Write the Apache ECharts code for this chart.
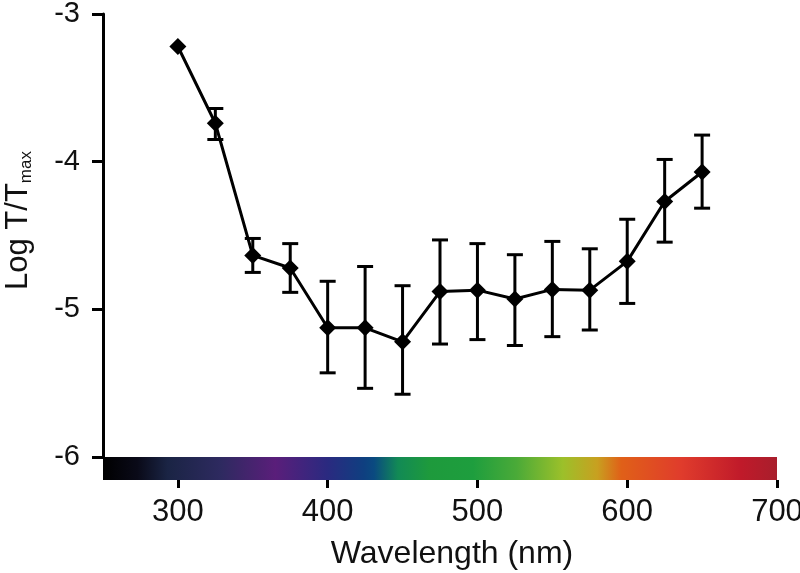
<!DOCTYPE html>
<html>
<head>
<meta charset="utf-8">
<script src="https://cdn.jsdelivr.net/npm/echarts@6/dist/echarts.min.js"></script>
<style>html,body{margin:0;padding:0;background:#fff;}#chart{width:800px;height:573px;}</style>
</head>
<body>
<div id="chart"></div>
<script>
// ---- data ----
const wavelengths = [300, 325, 350, 375, 400, 425, 450, 475, 500, 525, 550, 575, 600, 625, 650];
const logT = [-3.22, -3.74, -4.635, -4.72, -5.125, -5.125, -5.22, -4.88, -4.87, -4.93, -4.865, -4.87, -4.675, -4.27, -4.07];
const errUpper = [null, -3.64, -4.52, -4.555, -4.81, -4.71, -4.84, -4.53, -4.555, -4.63, -4.54, -4.59, -4.39, -3.985, -3.82];
const errLower = [null, -3.85, -4.75, -4.885, -5.43, -5.535, -5.575, -5.235, -5.205, -5.245, -5.185, -5.14, -4.96, -4.545, -4.315];
const xTickValues = [300, 400, 500, 600, 700];
const yTickValues = [-3, -4, -5, -6];
const spectrumWl = [250, 273, 293, 329, 365, 400, 424, 431, 447, 468, 497, 526, 557, 580, 596, 636, 676, 700];
const spectrumColors = ['#000000', '#0a0a18', '#1a2444', '#2e2a60', '#5a1e7a', '#2a2a80', '#0f3f80', '#0a4a80', '#128a55', '#1e9a3c', '#1e9e3e', '#4aaa38', '#9cc02a', '#c8a020', '#e06018', '#e03c2c', '#c01a2a', '#a81e2c'];
const xMin = 250, xMax = 700;

const FONT = "'Liberation Sans', Arial, sans-serif";
const chart = echarts.init(document.getElementById('chart'), null, {renderer: 'canvas'});

const lineData = wavelengths.map((w, i) => [w, logT[i]]);
const errData = wavelengths.map((w, i) => [w, errLower[i], errUpper[i]]).filter(d => d[1] !== null);
const stops = spectrumWl.map((w, i) => ({offset: (w - xMin) / (xMax - xMin), color: spectrumColors[i]}));

const option = {
  animation: false,
  backgroundColor: '#fff',
  grid: [
    {left: 103, right: 23, top: 14, bottom: 116, outerBoundsMode: 'none', containLabel: false},
    {left: 103, right: 23, top: 457, bottom: 93, outerBoundsMode: 'none', containLabel: false}
  ],
  xAxis: [
    {gridIndex: 0, type: 'value', min: xMin, max: xMax, show: false},
    {gridIndex: 1, type: 'value', min: xMin, max: xMax,
     axisLine: {show: false},
     splitLine: {show: false},
     axisTick: {show: true, customValues: xTickValues, length: 8, lineStyle: {color: '#000', width: 3}},
     axisLabel: {customValues: xTickValues, fontSize: 31, fontFamily: FONT, color: '#111', margin: 17},
     name: 'Wavelength (nm)', nameLocation: 'middle', nameGap: 58,
     nameTextStyle: {fontSize: 32, fontFamily: FONT, color: '#111', padding: [0, 0, 0, 24]}
    }
  ],
  yAxis: [
    {gridIndex: 0, type: 'value', min: -6, max: -3,
     axisLine: {show: true, lineStyle: {color: '#000', width: 3}},
     axisTick: {show: true, customValues: yTickValues, length: 11, lineStyle: {color: '#000', width: 3}},
     axisLabel: {customValues: yTickValues, fontSize: 29, fontFamily: FONT, color: '#111', margin: 23},
     splitLine: {show: false},
     name: 'Log T/T{sub|max}', nameLocation: 'middle', nameRotate: 90, nameGap: 68,
     nameTextStyle: {fontSize: 31, fontFamily: FONT, color: '#111', padding: [0, 0, 0, 30],
       rich: {sub: {fontSize: 17, fontFamily: FONT, color: '#111', padding: [16, 0, 0, 0]}}}
    },
    {gridIndex: 1, type: 'value', min: 0, max: 1, show: false}
  ],
  series: [
    {
      type: 'custom', xAxisIndex: 1, yAxisIndex: 1, clip: false, silent: true,
      data: [[xMin, xMax]],
      renderItem: function (params, api) {
        const p0 = api.coord([api.value(0), 1]);
        const p1 = api.coord([api.value(1), 0]);
        return {type: 'rect', shape: {x: p0[0], y: p0[1], width: p1[0] - p0[0], height: p1[1] - p0[1]},
          style: {fill: new echarts.graphic.LinearGradient(0, 0, 1, 0, stops)}};
      }
    },
    {
      type: 'custom', xAxisIndex: 0, yAxisIndex: 0, clip: false, z: 3,
      data: errData,
      renderItem: function (params, api) {
        const lo = api.coord([api.value(0), api.value(1)]);
        const hi = api.coord([api.value(0), api.value(2)]);
        const hw = 8;
        const st = {stroke: '#000', lineWidth: 3};
        return {type: 'group', children: [
          {type: 'line', shape: {x1: lo[0], y1: lo[1], x2: hi[0], y2: hi[1]}, style: st},
          {type: 'line', shape: {x1: lo[0] - hw, y1: lo[1], x2: lo[0] + hw, y2: lo[1]}, style: st},
          {type: 'line', shape: {x1: hi[0] - hw, y1: hi[1], x2: hi[0] + hw, y2: hi[1]}, style: st}
        ]};
      }
    },
    {
      type: 'line', xAxisIndex: 0, yAxisIndex: 0, z: 5,
      data: lineData,
      symbol: 'diamond', symbolSize: 17,
      lineStyle: {color: '#000', width: 3},
      itemStyle: {color: '#000'}
    }
  ]
};
chart.setOption(option);
</script>
</body>
</html>
